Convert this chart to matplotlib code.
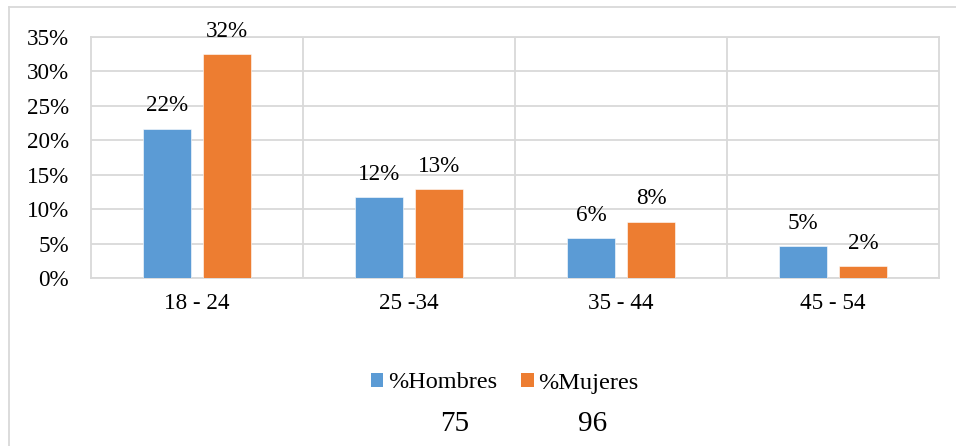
import matplotlib
matplotlib.use("Agg")
import matplotlib.pyplot as plt
from matplotlib.lines import Line2D
from matplotlib.patches import Patch
import numpy as np

# Age groups and share of each group by sex
categories = ["18 - 24", "25 -34", "35 - 44", "45 - 54"]
hombres = [0.217, 0.117, 0.058, 0.046]
mujeres = [0.3249, 0.129, 0.082, 0.017]
series_names = ["%Hombres", "%Mujeres"]
totals = ["75", "96"]
y_ticks = [0, 0.05, 0.10, 0.15, 0.20, 0.25, 0.30, 0.35]

BLUE = "#5B9BD5"
ORANGE = "#ED7D31"
GRID = "#D9D9D9"
FS = 16.7

plt.rcParams["font.family"] = ["Liberation Serif", "DejaVu Serif"]

fig = plt.figure(figsize=(9.56, 4.46), dpi=100)
ax = fig.add_axes([91 / 956, 1 - 278 / 446, (939 - 91) / 956, (278 - 37) / 446])

x = np.arange(len(categories))
width = 0.223
offset = 0.1415
for vals, color, sign in ((hombres, BLUE, -1), (mujeres, ORANGE, 1)):
    bars = ax.bar(x + sign * offset, vals, width, color=color,
                  edgecolor="white", linewidth=0.4, zorder=3)
    for b, v in zip(bars, vals):
        ax.annotate(f"{v * 100:.0f}%", (b.get_x() + b.get_width() / 2, v),
                    xytext=(0, 12.3), textcoords="offset points",
                    ha="center", va="baseline", fontsize=FS, color="black",
                    zorder=4)

ax.set_xlim(-0.5, len(categories) - 0.5)
ax.set_ylim(0, 0.35)
ax.set_yticks(y_ticks)
ax.set_yticklabels([f"{t * 100:.0f}%" for t in y_ticks])
ax.set_xticks(x)
ax.set_xticklabels(categories)
ax.tick_params(axis="y", length=0, pad=16, labelsize=FS)
ax.tick_params(axis="x", length=0, pad=11, labelsize=FS)

ax.grid(axis="y", color=GRID, linewidth=1.3, zorder=0)
for b in np.arange(0.5, len(categories) - 0.5, 1.0):
    ax.axvline(b, color=GRID, linewidth=1.3, zorder=0)
for s in ax.spines.values():
    s.set_color(GRID)
    s.set_linewidth(1.3)

handles = [Patch(facecolor=BLUE), Patch(facecolor=ORANGE)]
fig.legend(handles, series_names, loc="center", ncol=2,
           bbox_to_anchor=(0.528, 1 - 383 / 446), frameon=False,
           fontsize=FS + 0.8, handlelength=0.5, handleheight=0.5,
           handletextpad=0.2, columnspacing=1.0)

fig.text(455 / 956, 1 - 424 / 446, totals[0], ha="center", va="center",
         fontsize=21)
fig.text(593 / 956, 1 - 424 / 446, totals[1], ha="center", va="center",
         fontsize=21)

# outer chart-area frame (left and top edges)
fig.add_artist(Line2D([9 / 956, 9 / 956], [0, 1 - 7 / 446],
                      transform=fig.transFigure, color=GRID, linewidth=1.3))
fig.add_artist(Line2D([9 / 956, 1], [1 - 7 / 446, 1 - 7 / 446],
                      transform=fig.transFigure, color=GRID, linewidth=1.3))

fig.savefig("out.png", dpi=100)
